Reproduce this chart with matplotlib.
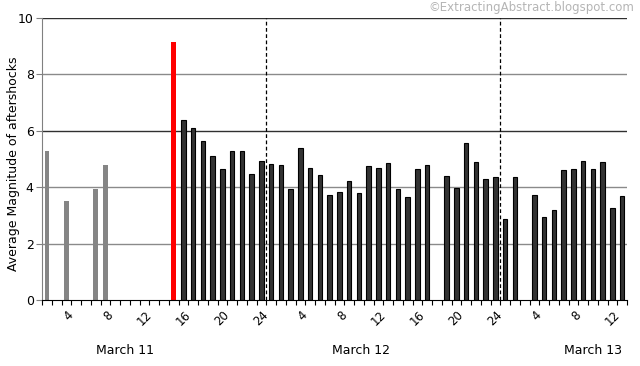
import numpy as np
import matplotlib
matplotlib.use("Agg")
import matplotlib.pyplot as plt

nan = np.nan
# Hour slots: March 11 (1-24), March 12 (25-48), March 13 (49-60)
slots = list(range(1, 61))
magnitudes = [
    # March 11
    5.3, nan, 3.5, nan, nan, 3.95, 4.8, nan, nan, nan, nan, nan, nan, 9.15,
    6.4, 6.1, 5.65, 5.12, 4.63, 5.28, 5.28, 4.48, 4.93, 4.82,
    # March 12
    4.8, 3.95, 5.4, 4.67, 4.44, 3.73, 3.82, 4.21, 3.78, 4.75, 4.68, 4.86,
    3.92, 3.64, 4.66, 4.79, nan, 4.39, 3.97, 5.58, 4.88, 4.30, 4.36, 2.86,
    # March 13
    4.37, nan, 3.73, 2.93, 3.18, 4.62, 4.66, 4.92, 4.63, 4.88, 3.27, 3.68,
]
mainshock_slot = 14
tick_slots = list(range(4, 61, 4))
tick_labels = ["4", "8", "12", "16", "20", "24",
               "4", "8", "12", "16", "20", "24",
               "4", "8", "12"]
day_labels = ["March 11", "March 12", "March 13"]
day_label_x = [9.0, 33.2, 57.0]
day_dividers = [23.5, 47.5]

FS = 8.5
fig = plt.figure(figsize=(6.4, 3.66), dpi=100)
ax = fig.add_axes([42/640, (366-300)/366, (627-42)/640, (300-18)/366])

for s, v in zip(slots, magnitudes):
    if np.isnan(v):
        continue
    if s < mainshock_slot:
        ax.bar(s, v, width=0.45, color="#858585", edgecolor="none", zorder=3)
    elif s == mainshock_slot:
        ax.bar(s, v, width=0.47, color="#ff0000", edgecolor="none", zorder=3)
    else:
        ax.bar(s, v, width=0.48, color="#333333", edgecolor="#000000",
               linewidth=0.8, zorder=3)

ax.set_xlim(0.5, 60.5)
ax.set_ylim(0, 10)

for g in [2, 4, 8]:
    ax.axhline(g, color="#8a8a8a", lw=1.0, zorder=1)
for g in [6, 10]:
    ax.axhline(g, color="#303030", lw=1.0, zorder=1)

for d in day_dividers:
    ax.axvline(d, color="#000000", lw=0.9, ls=(0, (3, 2)), zorder=4)

ax.set_yticks([0, 2, 4, 6, 8, 10])
ax.tick_params(axis="y", labelsize=FS + 0.5, length=4, color="#808080", pad=2)

ax.set_xticks(np.arange(0.5, 61, 1), minor=True)
ax.set_xticks(tick_slots)
ax.set_xticklabels(tick_labels, rotation=45, ha="right", va="top",
                   fontsize=FS)
ax.tick_params(axis="x", which="major", length=0, pad=6)
ax.tick_params(axis="x", which="minor", length=3.5, color="#000000", width=0.8)

for sp in ["top", "right"]:
    ax.spines[sp].set_visible(False)
ax.spines["left"].set_color("#808080")
ax.spines["bottom"].set_color("#000000")
ax.spines["bottom"].set_zorder(5)

fig.text(14/640, (366-164)/366, "Average Magnitude of aftershocks",
         rotation=90, ha="center", va="center", fontsize=9)

for lab, x in zip(day_labels, day_label_x):
    ax.text(x, -(350-300)/282, lab, transform=ax.get_xaxis_transform(),
            ha="center", va="center", fontsize=FS + 0.5)

fig.text(634/640, (366-8)/366, "\u00a9ExtractingAbstract.blogspot.com",
         ha="right", va="center", fontsize=8.5, color="#b5b5b5")

fig.savefig("out.png", dpi=100)
